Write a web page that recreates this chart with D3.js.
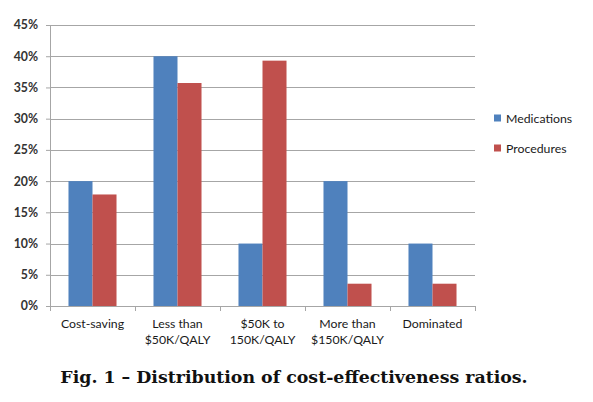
<!DOCTYPE html>
<html>
<head>
<meta charset="utf-8">
<script src="https://cdn.jsdelivr.net/npm/d3@7"></script>
<style>
  body { margin: 0; background: #fff; }
  svg { display: block; }
  .tick text, .lbl { font-family: Lato, "Open Sans", sans-serif; font-size: 12.3px; fill: #1a1a1a; }
</style>
</head>
<body>
<svg id="chart" width="593" height="402"></svg>
<script>
'use strict';

// chart data
const categories = [['Cost-saving'], ['Less than', '$50K/QALY'], ['$50K to', '150K/QALY'], ['More than', '$150K/QALY'], ['Dominated']];
const series = ['Medications', 'Procedures'];
const medications = [20, 40, 10, 20, 10];
const procedures = [17.86, 35.71, 39.29, 3.57, 3.57];
const yTicks = [0, 5, 10, 15, 20, 25, 30, 35, 40, 45];
const colours = ['#4f81bd', '#c0504d'];
const caption = 'Fig. 1 \u2013 Distribution of cost-effectiveness ratios.';

const svg = d3.select('#chart');
const margin = {left: 50, right: 118, top: 25, bottom: 96};
const width = 593 - margin.left - margin.right;
const height = 402 - margin.top - margin.bottom;

const g = svg.append('g').attr('transform', `translate(${margin.left},${margin.top})`);

const x = d3.scaleBand().domain(d3.range(categories.length)).range([0, width]).paddingInner(0).paddingOuter(0);
const xs = d3.scaleBand().domain(series).range([0, x.bandwidth()]).paddingInner(0).paddingOuter(0.77);
const y = d3.scaleLinear().domain([0, 45]).range([height, 0]);

// gridlines
g.append('g').selectAll('line').data(yTicks.filter(d => d > 0)).join('line')
  .attr('x1', 0).attr('x2', width)
  .attr('y1', d => Math.round(y(d)) + 0.5).attr('y2', d => Math.round(y(d)) + 0.5)
  .attr('stroke', '#a6a6a6').attr('stroke-width', 1);

// bars
const rows = categories.map((c, i) => [medications[i], procedures[i]]);
const groups = g.append('g').selectAll('g').data(rows).join('g')
  .attr('transform', (d, i) => `translate(${x(i)},0)`);
groups.selectAll('rect').data(d => d.map((v, j) => ({v, s: series[j], j}))).join('rect')
  .attr('x', d => xs(d.s)).attr('width', xs.bandwidth())
  .attr('y', d => y(d.v)).attr('height', d => y(0) - y(d.v))
  .attr('fill', d => colours[d.j]);

// y axis
const yAxis = g.append('g')
  .call(d3.axisLeft(y).tickValues(yTicks).tickFormat(d => d + '%').tickSize(4).tickPadding(8));
yAxis.selectAll('line, path').attr('stroke', '#a6a6a6');
yAxis.select('.domain').attr('d', `M-4,0.5H0.5V${height}`);
yAxis.selectAll('.tick text').style('font-weight', 'bold').style('fill', '#333');

// x axis with ticks at category boundaries
const xAxis = g.append('g').attr('transform', `translate(0,${height})`);
xAxis.append('line').attr('x1', 0).attr('x2', width).attr('y1', 0.5).attr('y2', 0.5).attr('stroke', '#a6a6a6');
xAxis.selectAll('.bt').data(d3.range(categories.length + 1)).join('line')
  .attr('class', 'bt')
  .attr('x1', i => Math.round(i * x.step()) + 0.5).attr('x2', i => Math.round(i * x.step()) + 0.5)
  .attr('y1', 0).attr('y2', 5).attr('stroke', '#a6a6a6');
const xl = xAxis.selectAll('.lbl').data(categories).join('text')
  .attr('class', 'lbl')
  .attr('text-anchor', 'middle')
  .attr('x', (d, i) => x(i) + x.bandwidth() / 2)
  .attr('y', 22);
xl.selectAll('tspan').data(d => d).join('tspan')
  .attr('x', function() { return this.parentNode.getAttribute('x'); })
  .attr('dy', (d, i) => i === 0 ? 0 : 16)
  .text(d => d);

// legend
const legend = svg.append('g').attr('transform', `translate(494,118)`);
series.forEach((s, i) => {
  legend.append('rect').attr('x', 0).attr('y', i * 30 - 3.5).attr('width', 7).attr('height', 7).attr('fill', colours[i]);
  legend.append('text').attr('class', 'lbl').attr('x', 12).attr('y', i * 30 + 4.5).text(s);
});

// caption
const cap = svg.append('text')
  .attr('x', 294).attr('y', 383).attr('text-anchor', 'middle')
  .style('font-family', '"DejaVu Serif", serif').style('font-weight', 'bold').style('font-size', '18px')
  .attr('fill', '#111')
  .text(caption);
const w = cap.node().getComputedTextLength();
cap.style('font-size', (18 * 468 / w).toFixed(2) + 'px');
</script>
</body>
</html>
